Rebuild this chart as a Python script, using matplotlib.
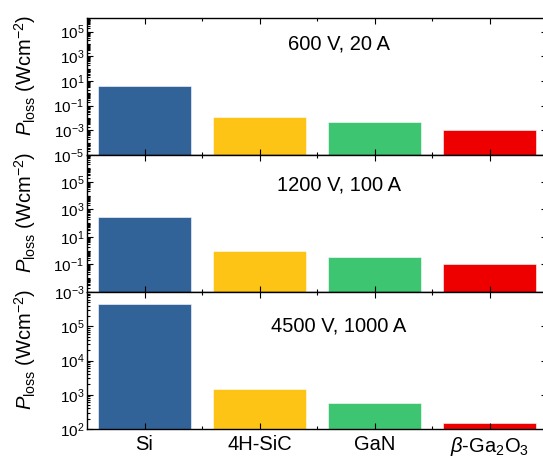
import matplotlib
matplotlib.use("Agg")
import matplotlib.pyplot as plt
from matplotlib.ticker import LogLocator, FixedLocator, LogFormatterMathtext, NullFormatter
import numpy as np

plt.rcParams['font.family'] = ['Liberation Sans', 'DejaVu Sans']
plt.rcParams['mathtext.fontset'] = 'custom'
plt.rcParams['mathtext.rm'] = 'Liberation Sans'
plt.rcParams['mathtext.it'] = 'Liberation Sans:italic'
plt.rcParams['mathtext.bf'] = 'Liberation Sans:bold'

# data
materials = ["Si", "4H-SiC", "GaN", r"$\beta$-Ga$_2$O$_3$"]
colors = ["#326398", "#fdc315", "#3dc572", "#ee0000"]
conditions = ["600 V, 20 A", "1200 V, 100 A", "4500 V, 1000 A"]
loss_600V = [4.0, 0.011, 0.0043, 0.0011]
loss_1200V = [290.0, 1.0, 0.36, 0.10]
loss_4500V = [4.6e5, 1480.0, 560.0, 146.0]
ylims = [(1e-5, 10**6.1), (1e-3, 10**6.95), (1e2, 1e6)]
yticks = [[1e-5, 1e-3, 1e-1, 1e1, 1e3, 1e5],
          [1e-3, 1e-1, 1e1, 1e3, 1e5],
          [1e2, 1e3, 1e4, 1e5]]
text_y = [0.81, 0.78, 0.75]

losses = [loss_600V, loss_1200V, loss_4500V]

fig = plt.figure(figsize=(5.43, 4.57), dpi=100)
W, H = 543.0, 457.0
left, right = 87, 547
bounds = [(18, 155), (155, 292), (292, 429)]
x = np.arange(len(materials))

for i, (top, bot) in enumerate(bounds):
    ax = fig.add_axes([left / W, 1 - bot / H, (right - left) / W, (bot - top) / H])
    ax.set_yscale('log')
    lo, hi = ylims[i]
    vals = np.array(losses[i])
    ax.bar(x, vals - lo, bottom=lo, width=0.81, color=colors,
           edgecolor='white', linewidth=0.4)
    ax.set_ylim(lo, hi)
    ax.set_xlim(-0.5, 3.5)

    ax.yaxis.set_major_locator(FixedLocator(yticks[i]))
    ax.yaxis.set_major_formatter(LogFormatterMathtext())
    ax.yaxis.set_minor_locator(LogLocator(base=10, subs=np.arange(1, 10), numticks=50))
    ax.yaxis.set_minor_formatter(NullFormatter())
    ax.set_xticks(x)
    ax.set_xticks([0.5, 1.5, 2.5], minor=True)
    ax.tick_params(which='both', direction='in', top=True, right=True, width=0.8)
    ax.tick_params(which='major', length=4, labelsize=11, pad=2)
    ax.tick_params(which='minor', length=2)
    ax.tick_params(axis='x', which='major', labelsize=14.5, pad=4)
    if i < 2:
        ax.set_xticklabels([])
    else:
        ax.set_xticklabels(materials)
    for s in ax.spines.values():
        s.set_linewidth(1.0)

    ax.set_ylabel(r"$P_{\mathrm{loss}}$ (Wcm$^{-2}$)", fontsize=14.5)
    ax.yaxis.set_label_coords(-0.107, 0.585)
    ax.text(0.548, text_y[i], conditions[i], transform=ax.transAxes,
            ha='center', va='center', fontsize=14.5)

fig.savefig("out.png", dpi=100)
